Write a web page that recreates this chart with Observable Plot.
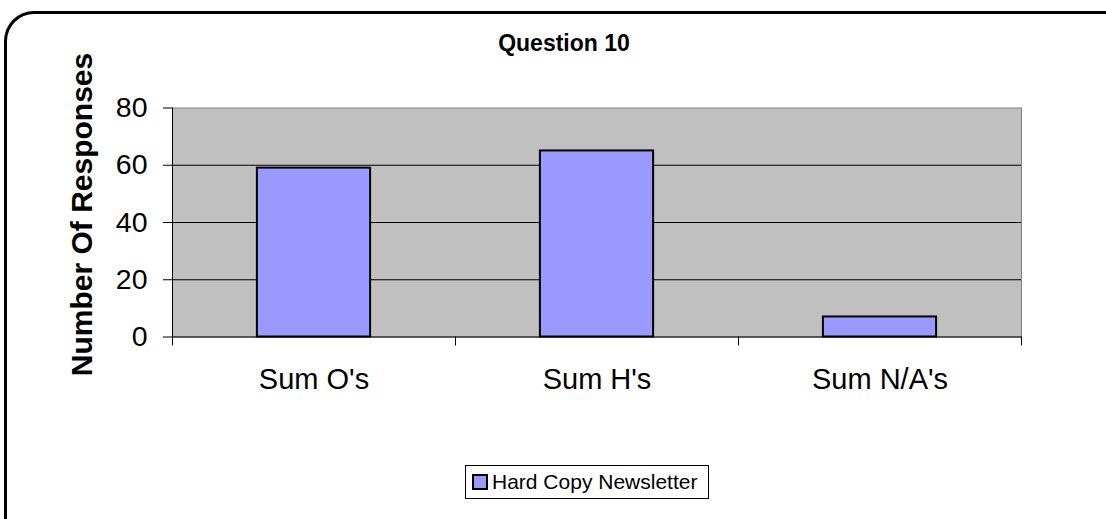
<!DOCTYPE html>
<html><head><meta charset="utf-8">
<script src="https://cdn.jsdelivr.net/npm/d3@7"></script>
<script src="https://cdn.jsdelivr.net/npm/@observablehq/plot@0.6"></script>
<style>
html,body{margin:0;padding:0;background:#fff;overflow:hidden;}
#root{position:relative;width:1106px;height:519px;overflow:hidden;font-family:"Liberation Sans",Arial,sans-serif;color:#000;}
#frame{position:absolute;left:4px;top:11px;width:1102px;height:508px;border-left:3px solid #000;border-top:3px solid #000;border-top-left-radius:30px;box-sizing:border-box;pointer-events:none;}
#title{height:60px;box-sizing:border-box;padding-top:32px;padding-left:22px;text-align:center;font-weight:bold;font-size:23px;line-height:23px;}
#chart svg{display:block;}
#legend{position:absolute;left:465px;top:465px;height:34px;width:244px;box-sizing:border-box;border:1px solid #000;display:flex;align-items:center;padding-left:6px;font-size:21px;}
#legend .sw{width:16px;height:16px;box-sizing:border-box;border:2px solid #000;background:#9999ff;margin-right:4px;}
</style>
</head><body>
<div id="root">
  <div id="title"></div>
  <div id="chart"></div>
  <div id="legend"><div class="sw"></div><span id="legtext"></span></div>
  <div id="frame"></div>
</div>
<script>
const title = "Question 10";
const yLabel = "Number Of Responses";
const categories = ["Sum O's", "Sum H's", "Sum N/A's"];
const values = [59, 65, 7];
const yTicks = [0, 20, 40, 60, 80];
const seriesName = "Hard Copy Newsletter";

document.getElementById("title").textContent = title;
document.getElementById("legtext").textContent = seriesName;

const data = categories.map((c, i) => ({cat: c, i, value: values[i]}));
const idx = categories.map((c, i) => i);
const bounds = [-0.5, ...idx.map(i => i + 0.5)];
const yMax = yTicks[yTicks.length - 1];

const chart = Plot.plot({
  width: 1106,
  height: 400,
  marginTop: 47.5,
  marginBottom: 123.5,
  marginLeft: 172,
  marginRight: 85,
  style: {fontFamily: '"Liberation Sans", Arial, sans-serif', color: "#000", background: "transparent", overflow: "visible"},
  x: {type: "linear", domain: [-0.5, categories.length - 0.5]},
  y: {domain: [0, yMax]},
  marks: [
    Plot.frame({fill: "#c0c0c0", stroke: "#808080"}),
    Plot.ruleY(yTicks.filter(t => t > 0 && t < yMax), {stroke: "#000", strokeWidth: 1}),
    Plot.rectY(data, {x1: d => d.i - 0.2, x2: d => d.i + 0.2, y: "value", fill: "#9999ff", stroke: "#000", strokeWidth: 2, inset: 0}),
    Plot.ruleX([-0.5], {stroke: "#000"}),
    Plot.ruleY([0], {stroke: "#000"}),
    Plot.axisY({ticks: yTicks, tickSize: 9, tickPadding: 16, fontSize: 28.5, label: null}),
    Plot.axisX({ticks: bounds, tickSize: 9, tickFormat: () => "", label: null}),
    Plot.axisX({ticks: idx, tickSize: 0, tickPadding: 31, fontSize: 29, tickFormat: i => categories[i], label: null}),
    Plot.text([yLabel], {frameAnchor: "left", rotate: -90, dx: -90, dy: -8, fontSize: 30, fontWeight: "bold", textAnchor: "middle", lineAnchor: "middle"})
  ]
});
document.getElementById("chart").appendChild(chart);
</script>
</body></html>
